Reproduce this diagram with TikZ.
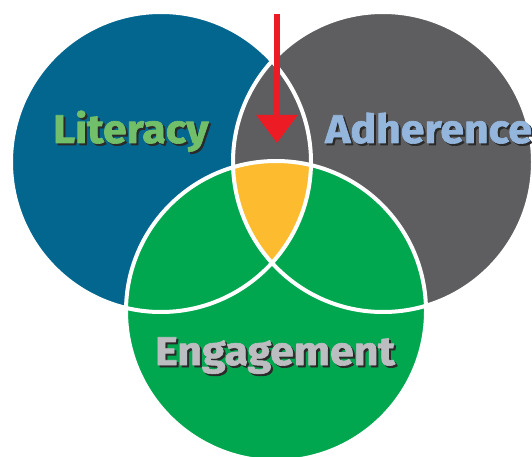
\documentclass[tikz,border=0pt]{standalone}
\usepackage{fontspec}
\setmainfont{Fira Sans}
\newfontfamily\lblfont[BoldFeatures={FakeBold=1.6}]{Fira Sans}
\usetikzlibrary{arrows.meta}
\definecolor{litblue}{HTML}{02668F}
\definecolor{adhgray}{HTML}{5E5E60}
\definecolor{enggreen}{HTML}{00A74F}
\definecolor{coreyellow}{HTML}{FDBB2F}
\definecolor{arrowred}{HTML}{ED1C24}
\definecolor{litgreen}{HTML}{72BF6A}
\definecolor{adhblue}{HTML}{94B6DC}
\definecolor{enggray}{HTML}{BCBDC0}
\definecolor{shadowgray}{HTML}{2A2A2A}
\begin{document}
\begin{tikzpicture}[x=1pt,y=-1pt,line join=round,
	lbl/.style={font=\lblfont\fontsize{40}{40}\selectfont\bfseries,anchor=base west,inner sep=0pt,xscale=1.07},
	shd/.style={lbl,text=shadowgray}]
	\useasboundingbox (0,0) rectangle (532,457);
	\clip (0,0) rectangle (532,457);
	\def\r{150}
	\coordinate (L) at (161,162);
	\coordinate (A) at (383,162);
	\coordinate (E) at (276,311);
	% the three circles
	\fill[litblue] (L) circle[radius=\r pt];
	\fill[adhgray] (A) circle[radius=\r pt];
	\fill[enggreen] (E) circle[radius=\r pt];
	\begin{scope}
		\clip (L) circle[radius=\r pt];
		\clip (A) circle[radius=\r pt];
		\fill[coreyellow] (E) circle[radius=\r pt];
	\end{scope}
	\foreach \c in {L,A,E}
	\draw[white,line width=4pt] (\c) circle[radius=\r pt];
	% arrow
	\coordinate (top) at (277,14);
	\coordinate (tip) at (277,143);
	\draw[arrowred,line width=6pt,-{Triangle[length=28pt,width=40pt]}] (top)--(tip);
	% labels
	\foreach \n/\x/\y/\t/\col in {lit/53/143/Literacy/litgreen,adh/325/143/Adherence/adhblue,eng/155/365/Engagement/enggray}{
		\node[shd] (\n sh) at (\x+2,\y+2) {\t};
		\node[lbl,text=\col] (\n) at (\x,\y) {\t};
	}
\end{tikzpicture}
\end{document}
